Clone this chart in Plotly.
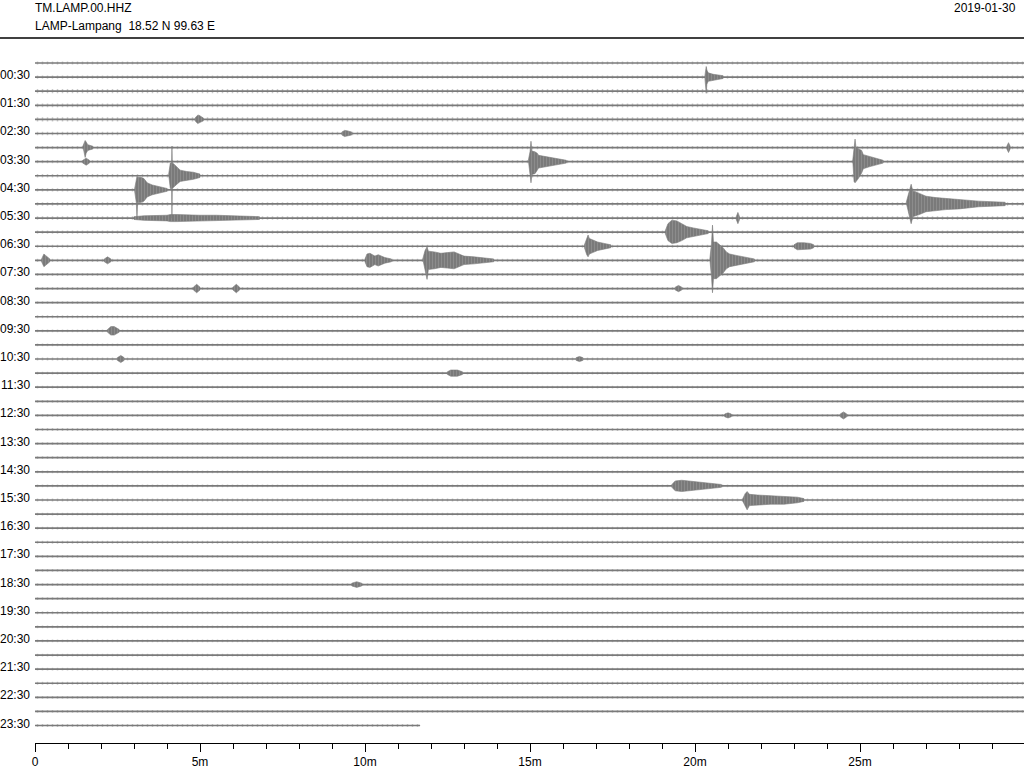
import plotly.graph_objects as go

# ---------------- data ----------------
STATION = "TM.LAMP.00.HHZ"
SITE = "LAMP-Lampang\u00a0\u00a018.52 N 99.63 E"
DATE = "2019-01-30"

# one helicorder row per 30 minutes (row index 0 = 00:00 ... 47 = 23:30)
ROW_LABELS = ["00:30", "01:30", "02:30", "03:30", "04:30", "05:30", "06:30", "07:30",
              "08:30", "09:30", "10:30", "11:30", "12:30", "13:30", "14:30", "15:30",
              "16:30", "17:30", "18:30", "19:30", "20:30", "21:30", "22:30", "23:30"]
LABEL_ROWS = [1, 3, 5, 7, 9, 11, 13, 15, 17, 19, 21, 23, 25, 27, 29, 31, 33, 35, 37, 39,
              41, 43, 45, 47]
# recorded length of each row in minutes (last row is incomplete)
ROW_LENGTH = [30] * 47 + [11.67]
# background noise half-amplitude of each row (in units of row spacing)
ROW_NOISE = [0.11, 0.12, 0.15, 0.13, 0.15, 0.12, 0.12, 0.12, 0.12, 0.12, 0.12, 0.12,
             0.11, 0.11, 0.11, 0.11, 0.11, 0.10, 0.10, 0.10, 0.10, 0.10, 0.10, 0.10,
             0.10, 0.10, 0.10, 0.10, 0.10, 0.10, 0.10, 0.10, 0.10, 0.10, 0.10, 0.10,
             0.10, 0.10, 0.10, 0.10, 0.10, 0.10, 0.10, 0.10, 0.10, 0.10, 0.10, 0.10]

X_TICKS = [0, 5, 10, 15, 20, 25]
X_TICK_TEXT = ["0", "5m", "10m", "15m", "20m", "25m"]
X_MINOR = list(range(0, 30))

# events: row, minute within row, upward and downward envelope (row-spacing units)
EVENT_ROW = [1, 4, 5, 6, 7, 6, 7, 7, 8, 9, 10, 11, 11, 12, 13, 13, 14, 14, 14, 14, 14,
             16, 16, 16, 19, 21, 21, 22, 25, 25, 30, 31, 37]
EVENT_T = [
    [20.30, 20.34, 20.36, 20.40, 20.55, 20.85],
    [4.85, 4.93, 4.97, 5.10],
    [9.30, 9.38, 9.45, 9.60],
    [1.45, 1.52, 1.55, 1.60, 1.75],
    [1.45, 1.55, 1.65],
    [29.45, 29.50, 29.55],
    [14.95, 15.00, 15.03, 15.06, 15.15, 15.22, 15.26, 15.40, 15.60, 15.85, 16.10],
    [24.78, 24.82, 24.85, 24.88, 24.95, 25.05, 25.10, 25.30, 25.50, 25.70],
    [4.05, 4.10, 4.14, 4.15, 4.16, 4.20, 4.30, 4.40, 4.60, 4.80, 5.00],
    [3.02, 3.07, 3.09, 3.11, 3.20, 3.30, 3.40, 3.55, 3.75, 4.00],
    [26.40, 26.47, 26.55, 26.60, 26.65, 26.80, 27.00, 27.30, 27.60, 28.00, 28.30, 28.60, 29.40],
    [3.00, 3.30, 4.00, 4.10, 4.30, 4.60, 5.00, 5.50, 6.00, 6.80],
    [21.25, 21.30, 21.35],
    [19.10, 19.18, 19.30, 19.45, 19.60, 19.75, 19.95, 20.20, 20.40],
    [16.65, 16.72, 16.76, 16.80, 16.90, 17.05, 17.25, 17.45],
    [23.00, 23.10, 23.30, 23.50, 23.60],
    [20.45, 20.50, 20.53, 20.56, 20.65, 20.75, 20.85, 20.95, 21.05, 21.25, 21.50, 21.80],
    [10.00, 10.06, 10.15, 10.30, 10.40, 10.50, 10.60, 10.80],
    [11.75, 11.82, 11.88, 11.92, 12.10, 12.30, 12.50, 12.70, 12.85, 13.00, 13.30, 13.60, 13.90],
    [0.20, 0.27, 0.32, 0.45],
    [2.10, 2.20, 2.30],
    [4.80, 4.90, 5.00],
    [6.00, 6.10, 6.20],
    [19.40, 19.50, 19.60],
    [2.20, 2.30, 2.40, 2.55],
    [2.50, 2.60, 2.70],
    [16.40, 16.50, 16.60],
    [12.50, 12.60, 12.80, 12.95],
    [24.40, 24.50, 24.60],
    [20.90, 21.00, 21.10],
    [19.30, 19.40, 19.60, 19.80, 20.10, 20.40, 20.80],
    [21.45, 21.52, 21.58, 21.65, 21.90, 22.30, 22.70, 23.10, 23.30],
    [9.60, 9.75, 9.90],
]
EVENT_UP = [
    [0.10, 0.75, 0.50, 0.30, 0.20, 0.10],
    [0.10, 0.30, 0.30, 0.10],
    [0.10, 0.22, 0.20, 0.10],
    [0.10, 0.50, 0.40, 0.20, 0.10],
    [0.10, 0.25, 0.10],
    [0.10, 0.35, 0.10],
    [0.10, 0.70, 1.45, 0.75, 0.70, 0.60, 0.45, 0.40, 0.30, 0.20, 0.10],
    [0.10, 1.00, 1.60, 1.00, 0.90, 0.80, 0.50, 0.35, 0.20, 0.10],
    [0.10, 0.90, 0.90, 2.10, 0.90, 0.85, 0.60, 0.40, 0.30, 0.25, 0.12],
    [0.10, 0.90, 0.95, 0.90, 0.90, 0.80, 0.50, 0.35, 0.25, 0.10],
    [0.10, 0.70, 1.40, 0.90, 0.90, 0.75, 0.55, 0.45, 0.40, 0.35, 0.30, 0.20, 0.12],
    [0.10, 0.16, 0.20, 0.25, 0.25, 0.22, 0.20, 0.20, 0.16, 0.10],
    [0.10, 0.40, 0.10],
    [0.10, 0.60, 0.85, 0.80, 0.60, 0.40, 0.30, 0.20, 0.10],
    [0.10, 0.60, 0.80, 0.55, 0.45, 0.30, 0.20, 0.10],
    [0.10, 0.25, 0.25, 0.20, 0.10],
    [0.10, 1.20, 2.50, 1.30, 1.30, 1.10, 0.90, 0.60, 0.45, 0.35, 0.25, 0.10],
    [0.10, 0.45, 0.50, 0.30, 0.40, 0.30, 0.20, 0.10],
    [0.10, 0.70, 0.95, 0.65, 0.60, 0.50, 0.55, 0.60, 0.45, 0.30, 0.25, 0.20, 0.10],
    [0.10, 0.45, 0.35, 0.10],
    [0.10, 0.25, 0.10],
    [0.10, 0.30, 0.10],
    [0.10, 0.30, 0.10],
    [0.10, 0.22, 0.10],
    [0.10, 0.30, 0.30, 0.10],
    [0.10, 0.25, 0.10],
    [0.10, 0.18, 0.10],
    [0.10, 0.22, 0.22, 0.10],
    [0.10, 0.25, 0.10],
    [0.10, 0.18, 0.10],
    [0.10, 0.35, 0.40, 0.35, 0.30, 0.20, 0.10],
    [0.10, 0.45, 0.60, 0.40, 0.35, 0.30, 0.30, 0.20, 0.10],
    [0.10, 0.20, 0.10],
]
EVENT_DN = [
    [0.10, 1.15, 0.50, 0.30, 0.20, 0.10],
    [0.10, 0.30, 0.30, 0.10],
    [0.10, 0.22, 0.20, 0.10],
    [0.10, 0.70, 0.40, 0.20, 0.10],
    [0.10, 0.25, 0.10],
    [0.10, 0.35, 0.10],
    [0.10, 0.90, 1.50, 0.90, 0.85, 0.60, 0.45, 0.40, 0.30, 0.20, 0.10],
    [0.10, 1.40, 1.50, 1.40, 1.20, 0.80, 0.50, 0.35, 0.20, 0.10],
    [0.10, 0.90, 0.90, 3.00, 0.90, 0.85, 0.60, 0.40, 0.30, 0.25, 0.12],
    [0.10, 0.90, 2.00, 0.90, 0.90, 0.80, 0.50, 0.35, 0.25, 0.10],
    [0.10, 0.70, 1.40, 0.90, 0.85, 0.75, 0.55, 0.45, 0.40, 0.35, 0.30, 0.20, 0.12],
    [0.10, 0.16, 0.20, 0.25, 0.25, 0.22, 0.20, 0.20, 0.16, 0.10],
    [0.10, 0.40, 0.10],
    [0.10, 0.60, 0.80, 0.75, 0.60, 0.40, 0.30, 0.20, 0.10],
    [0.10, 0.60, 0.75, 0.55, 0.45, 0.30, 0.20, 0.10],
    [0.10, 0.25, 0.25, 0.20, 0.10],
    [0.10, 1.20, 2.30, 1.30, 1.30, 1.10, 0.90, 0.60, 0.45, 0.35, 0.25, 0.10],
    [0.10, 0.45, 0.50, 0.30, 0.40, 0.30, 0.20, 0.10],
    [0.10, 0.70, 1.35, 0.65, 0.60, 0.50, 0.55, 0.60, 0.45, 0.30, 0.25, 0.20, 0.10],
    [0.10, 0.45, 0.35, 0.10],
    [0.10, 0.25, 0.10],
    [0.10, 0.30, 0.10],
    [0.10, 0.30, 0.10],
    [0.10, 0.22, 0.10],
    [0.10, 0.30, 0.30, 0.10],
    [0.10, 0.25, 0.10],
    [0.10, 0.18, 0.10],
    [0.10, 0.22, 0.22, 0.10],
    [0.10, 0.25, 0.10],
    [0.10, 0.18, 0.10],
    [0.10, 0.35, 0.40, 0.35, 0.30, 0.20, 0.10],
    [0.10, 0.45, 0.70, 0.40, 0.35, 0.30, 0.30, 0.20, 0.10],
    [0.10, 0.20, 0.10],
]

# ---------------- styles ----------------
TRACE_COLOR = "#7a7a7a"
FONT = "Liberation Sans, Arial, sans-serif"

# ---------------- build figure ----------------
fig = go.Figure()

# noise bands (vertical-stroke texture)
bx, by = [], []
for k, (length, n) in enumerate(zip(ROW_LENGTH, ROW_NOISE)):
    bx += [0, length, length, 0, 0, None]
    by += [k - n, k - n, k + n, k + n, k - n, None]
fig.add_trace(go.Scatter(x=bx, y=by, mode="lines", fill="toself",
                         fillcolor="rgba(0,0,0,0)", line=dict(width=0),
                         fillpattern=dict(shape="|", size=5, solidity=0.3,
                                          fgcolor="rgba(122,122,122,0.8)",
                                          bgcolor="rgba(0,0,0,0)", fillmode="overlay"),
                         hoverinfo="skip", showlegend=False))

# base lines
lx, ly = [], []
for k, length in enumerate(ROW_LENGTH):
    lx += [0, length, None]
    ly += [k, k, None]
fig.add_trace(go.Scatter(x=lx, y=ly, mode="lines", line=dict(color=TRACE_COLOR, width=1.7),
                         hoverinfo="skip", showlegend=False))

# event envelopes
ex, ey = [], []
for row, t, up, dn in zip(EVENT_ROW, EVENT_T, EVENT_UP, EVENT_DN):
    ex += list(t) + list(t[::-1]) + [t[0], None]
    ey += [row - u for u in up] + [row + d for d in dn[::-1]] + [row - up[0], None]
fig.add_trace(go.Scatter(x=ex, y=ey, mode="lines", fill="toself",
                         fillcolor=TRACE_COLOR,
                         fillpattern=dict(shape="|", size=3, solidity=0.25,
                                          fgcolor="rgba(255,255,255,0.35)",
                                          bgcolor=TRACE_COLOR,
                                          fillmode="overlay"),
                         line=dict(color=TRACE_COLOR, width=0.6),
                         hoverinfo="skip", showlegend=False))

annotations = []
for r, lab in zip(LABEL_ROWS, ROW_LABELS):
    annotations.append(dict(x=0, xref="paper", y=r, yref="y", text=lab, showarrow=False,
                            xanchor="right", yanchor="middle", xshift=-3, yshift=2,
                            font=dict(size=12, color="black", family=FONT)))
annotations += [
    dict(x=0, xref="paper", y=1, yref="paper", text=STATION, showarrow=False,
         xanchor="left", yanchor="middle", xshift=-2, yshift=32,
         font=dict(size=12, color="black", family=FONT)),
    dict(x=0, xref="paper", y=1, yref="paper", text=SITE, showarrow=False,
         xanchor="left", yanchor="middle", xshift=-2, yshift=14,
         font=dict(size=12, color="black", family=FONT)),
    dict(x=1, xref="paper", y=1, yref="paper", text=DATE, showarrow=False,
         xanchor="right", yanchor="middle", xshift=-6, yshift=32,
         font=dict(size=12, color="black", family=FONT)),
]

fig.update_layout(
    width=1024, height=768,
    margin=dict(l=35, r=0, t=40, b=25),
    paper_bgcolor="white", plot_bgcolor="white",
    showlegend=False,
    annotations=annotations,
    shapes=[dict(type="line", xref="paper", yref="paper", x0=-35 / 989, x1=1,
                 y0=1 + 2 / 703, y1=1 + 2 / 703, line=dict(color="black", width=1.3))],
    xaxis=dict(range=[0, 989 / 33], showgrid=False, zeroline=False,
               showline=True, linecolor="black", linewidth=1,
               ticks="outside", ticklen=8, tickcolor="black", tickwidth=1,
               tickmode="array", tickvals=X_TICKS, ticktext=X_TICK_TEXT,
               tickfont=dict(size=12, color="black", family=FONT),
               minor=dict(tickmode="array", tickvals=X_MINOR, ticks="outside",
                          ticklen=5, tickcolor="black", tickwidth=1, showgrid=False)),
    yaxis=dict(range=[48.24, -1.632], showgrid=False, zeroline=False, showline=False,
               showticklabels=False, ticks=""),
)

fig.write_html("out.html", config={"displayModeBar": False},
               post_script="document.body.style.margin='0';"
                           "document.body.style.overflow='hidden';")
